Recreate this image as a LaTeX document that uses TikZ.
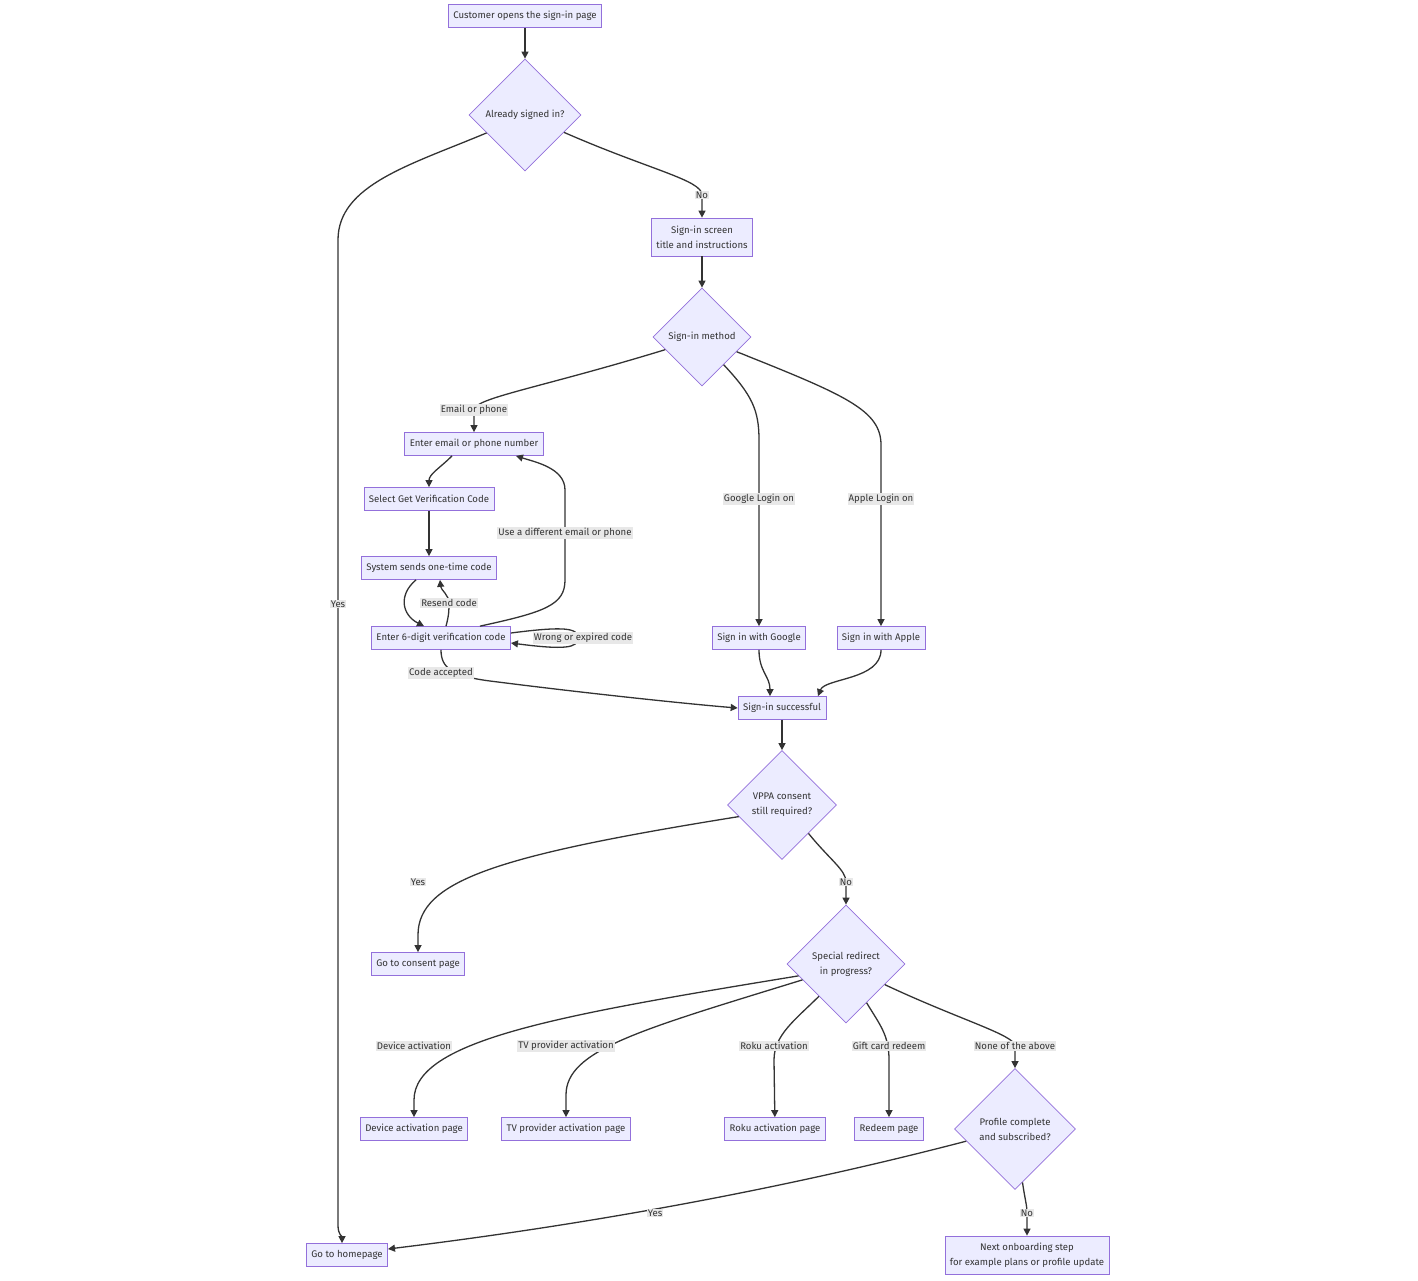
\documentclass[tikz,border=0pt]{standalone}
\usepackage{fontspec}
\setmainfont{Fira Sans}
\usetikzlibrary{shapes.geometric, arrows.meta}
\definecolor{boxfill}{HTML}{ECECFF}
\definecolor{boxline}{HTML}{9370DB}
\definecolor{ink}{HTML}{333333}
\definecolor{lblfill}{HTML}{E8E8E8}
\begin{document}
\begin{tikzpicture}[x=1pt, y=1pt,
	every node/.style={font=\fontsize{9.6}{15}\selectfont, text=ink},
	box/.style={draw=boxline, fill=boxfill, line width=0.75pt, inner xsep=5pt, inner ysep=0pt, minimum height=23pt, align=center},
	choice/.style={diamond, aspect=1, draw=boxline, fill=boxfill, line width=0.75pt, inner sep=0pt, align=center},
	link/.style={draw=ink, line width=1.3pt, -{Triangle[length=7pt, width=7pt]}},
	lbl/.style={fill=lblfill, inner sep=1pt}]
	\useasboundingbox (0, 0) rectangle (1418, -1280);
	\node (start) at (525, -16) [box] {Customer opens the sign-in page};
	\node (signed) at (525, -115) [choice, minimum size=112pt] {Already signed in?};
	\node (screen) at (702, -237) [box, minimum height=38pt] {Sign-in screen\\title and instructions};
	\node (method) at (702, -337) [choice, minimum size=98pt] {Sign-in method};
	\node (email) at (474, -444) [box] {Enter email or phone number};
	\node (getcode) at (429, -499) [box] {Select Get Verification Code};
	\node (sendcode) at (429, -568) [box] {System sends one-time code};
	\node (entercode) at (441, -638) [box] {Enter 6-digit verification code};
	\node (google) at (759, -638) [box] {Sign in with Google};
	\node (apple) at (881, -638) [box] {Sign in with Apple};
	\node (success) at (782, -708) [box] {Sign-in successful};
	\node (vppa) at (782, -805) [choice, minimum size=109pt] {VPPA consent\\still required?};
	\node (consent) at (418, -964) [box] {Go to consent page};
	\node (redirect) at (846, -964) [choice, minimum size=118pt] {Special redirect\\in progress?};
	\node (device) at (414, -1129) [box] {Device activation page};
	\node (tvprov) at (566, -1129) [box] {TV provider activation page};
	\node (roku) at (775, -1129) [box] {Roku activation page};
	\node (redeem) at (889, -1129) [box] {Redeem page};
	\node (profile) at (1015, -1129) [choice, minimum size=121pt] {Profile complete\\and subscribed?};
	\node (home) at (347, -1255) [box] {Go to homepage};
	\node (onboard) at (1027, -1255) [box, minimum height=38pt] {Next onboarding step\\for example plans or profile update};
	\draw[link] (start) -- (signed);
	\draw[link] (signed.336) .. controls (650, -170) and (702, -180) .. (702, -195) node[lbl] {No} -- (screen);
	\draw[link] (signed.205) .. controls (410, -165) and (338, -185) .. (338, -240) -- (338, -604) node[lbl] {Yes} -- (338, -1225) .. controls (338, -1235) and (342, -1236) .. ([xshift=-5pt]home.north);
	\draw[link] (screen) -- (method);
	\draw[link] (method.199) .. controls (540, -388) and (474, -398) .. (474, -410) node[lbl] {Email or phone} -- (email);
	\draw[link] (method.308) .. controls (752, -395) and (759, -410) .. (759, -440) -- (759, -499) node[lbl] {Google Login on} -- (google);
	\draw[link] (method.337) .. controls (845, -395) and (881, -410) .. (881, -445) -- (881, -499) node[lbl] {Apple Login on} -- (apple);
	\draw[link] ([xshift=-22pt]email.south) .. controls (440, -468) and (429, -474) .. (getcode);
	\draw[link] (getcode) -- (sendcode);
	\draw[link] ([xshift=-13pt]sendcode.south) .. controls (398, -595) and (402, -615) .. ([xshift=-17pt]entercode.north);
	\draw[link] ([xshift=5pt]entercode.north) .. controls (449, -615) and (449, -610) .. (449, -603) node[lbl] {Resend code} .. controls (449, -595) and (441, -590) .. ([xshift=11pt]sendcode.south);
	\draw[link] ([xshift=39pt]entercode.north) .. controls (545, -612) and (565, -605) .. (565, -580) -- (565, -533) node[lbl] {Use a different email or phone} -- (565, -490) .. controls (565, -468) and (535, -462) .. ([xshift=42pt]email.south);
	\draw[link] ([yshift=5pt]entercode.east) .. controls (565, -626) and (578, -628) .. (578, -638) node[lbl, xshift=5pt] {Wrong or expired code} .. controls (578, -648) and (565, -650) .. ([yshift=-5pt]entercode.east);
	\draw[link] (entercode.south) .. controls (441, -668) and (452, -676) .. (490, -681) .. controls (600, -695) and (700, -705) .. (success.west) node[lbl] at (441, -673) {Code accepted};
	\draw[link] (google) .. controls (759, -672) and (770, -676) .. ([xshift=-12pt]success.north);
	\draw[link] (apple) .. controls (881, -680) and (825, -678) .. ([xshift=36pt]success.north);
	\draw[link] (success) -- (vppa);
	\draw[link] (vppa.195) .. controls (500, -855) and (418, -880) .. (418, -935) -- (consent) node[lbl] at (418, -882) {Yes};
	\draw[link] (vppa.313) .. controls (830, -860) and (846, -870) .. (846, -882) node[lbl] {No} -- (redirect);
	\draw[link] (redirect.194) .. controls (560, -1015) and (414, -1040) .. (414, -1100) -- (device) node[lbl] at (414, -1046) {Device activation};
	\draw[link] (redirect.200) .. controls (640, -1030) and (566, -1050) .. (566, -1095) -- (tvprov) node[lbl] at (566, -1046) {TV provider activation};
	\draw[link] (redirect.230) .. controls (795, -1020) and (774, -1035) .. (774, -1060) -- (roku) node[lbl] at (774, -1046) {Roku activation};
	\draw[link] (redirect.298) .. controls (880, -1025) and (889, -1035) .. (889, -1060) -- (redeem) node[lbl] at (889, -1046) {Gift card redeem};
	\draw[link] (redirect.332) .. controls (960, -1020) and (1015, -1035) .. (1015, -1046) node[lbl] {None of the above} -- (profile);
	\draw[link] (profile.194) .. controls (760, -1195) and (560, -1228) .. ([yshift=6pt]home.east) node[lbl] at (655, -1213) {Yes};
	\draw[link] (profile.278) .. controls (1025, -1200) and (1027, -1205) .. (1027, -1213) node[lbl] {No} -- (onboard);
\end{tikzpicture}
\end{document}
